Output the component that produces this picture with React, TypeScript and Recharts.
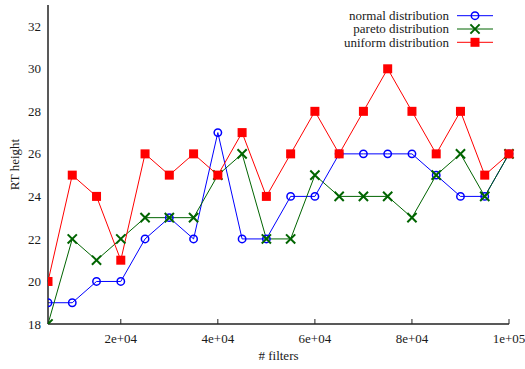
import { LineChart, Line, XAxis, YAxis, Legend, Customized, Label } from "recharts";

const filterCounts = [
  5000, 10000, 15000, 20000, 25000, 30000, 35000, 40000, 45000, 50000,
  55000, 60000, 65000, 70000, 75000, 80000, 85000, 90000, 95000, 100000,
];
const normalHeights = [19, 19, 20, 20, 22, 23, 22, 27, 22, 22, 24, 24, 26, 26, 26, 26, 25, 24, 24, 26];
const paretoHeights = [18, 22, 21, 22, 23, 23, 23, 25, 26, 22, 22, 25, 24, 24, 24, 23, 25, 26, 24, 26];
const uniformHeights = [20, 25, 24, 21, 26, 25, 26, 25, 27, 24, 26, 28, 26, 28, 30, 28, 26, 28, 25, 26];

const xTicks = [20000, 40000, 60000, 80000, 100000];
const xTickLabels = ["2e+04", "4e+04", "6e+04", "8e+04", "1e+05"];
const yTicks = [18, 20, 22, 24, 26, 28, 30, 32];

const WIDTH = 525;
const HEIGHT = 369;
const PLOT_LEFT = 48;
const PLOT_BOTTOM = 324;
const FONT = "'Liberation Serif', 'DejaVu Serif', serif";
const TEXT = "#1a1a1a";
const FRAME = "#222";

const SERIES = [
  { key: "normal", name: "normal distribution", color: "#0000ff", marker: "circle" },
  { key: "pareto", name: "pareto distribution", color: "#006400", marker: "cross" },
  { key: "uniform", name: "uniform distribution", color: "#ff0000", marker: "square" },
];

const data = filterCounts.map((n, i) => ({
  filters: n,
  normal: normalHeights[i],
  pareto: paretoHeights[i],
  uniform: uniformHeights[i],
}));

// points get cut at the left and bottom border only
const CLIP = "url(#plot-left-bottom)";

function Marker({ kind, cx, cy, color, clip }: { kind: string; cx: number; cy: number; color: string; clip?: boolean }) {
  const clipPath = clip ? CLIP : undefined;
  if (kind === "circle") {
    return <circle cx={cx} cy={cy} r={3.7} fill="none" stroke={color} strokeWidth={1.5} clipPath={clipPath} />;
  }
  if (kind === "cross") {
    const s = 4.6;
    return (
      <path
        d={`M${cx - s},${cy - s}L${cx + s},${cy + s}M${cx - s},${cy + s}L${cx + s},${cy - s}`}
        stroke={color}
        strokeWidth={2}
        fill="none"
        clipPath={clipPath}
      />
    );
  }
  return <rect x={cx - 4.5} y={cy - 4.5} width={9} height={9} fill={color} clipPath={clipPath} />;
}

const makeDot = (kind: string, color: string) => (p: any) => {
  if (p.cx == null || p.cy == null) return <g key={p.index} />;
  return <Marker key={p.index} kind={kind} cx={p.cx} cy={p.cy} color={color} clip />;
};

const BottomTick = ({ x, y, payload }: any) => {
  const idx = xTicks.indexOf(payload.value);
  return (
    <g>
      <line x1={x} x2={x} y1={y} y2={y - 5} stroke={FRAME} strokeWidth={1} />
      <text x={x} y={y + 19} textAnchor="middle" fontFamily={FONT} fontSize={13} fill={TEXT}>
        {xTickLabels[idx]}
      </text>
    </g>
  );
};

const TopTick = ({ x, y }: any) => <line x1={x} x2={x} y1={y} y2={y + 5} stroke={FRAME} strokeWidth={1} />;

const renderLegend = ({ payload }: any) => {
  const entries = SERIES.map((s) => ({
    ...s,
    label: (payload ?? []).find((e: any) => e.dataKey === s.key)?.value ?? s.name,
  }));
  return (
    <svg width={WIDTH} height={52} style={{ display: "block" }}>
      {entries.map((e, i) => {
        const y = 15.7 + i * 13.3;
        return (
          <g key={e.key}>
            <text x={449} y={y + 4.2} textAnchor="end" fontFamily={FONT} fontSize={13} fill={TEXT}>
              {e.label}
            </text>
            <line x1={457} x2={493} y1={y} y2={y} stroke={e.color} strokeWidth={1} />
            <Marker kind={e.marker} cx={475} cy={y} color={e.color} />
          </g>
        );
      })}
    </svg>
  );
};

export default function App() {
  return (
    <div style={{ position: "absolute", left: 0, top: 0, background: "#fff" }}>
      <LineChart width={WIDTH} height={HEIGHT} data={data} margin={{ top: 5, right: 16, bottom: 0, left: 0 }}>
        <Customized
          component={() => (
            <defs>
              <clipPath id="plot-left-bottom">
                <rect x={PLOT_LEFT} y={0} width={WIDTH - PLOT_LEFT} height={PLOT_BOTTOM} />
              </clipPath>
            </defs>
          )}
        />
        <XAxis
          dataKey="filters"
          type="number"
          domain={[5000, 100000]}
          ticks={xTicks}
          height={45}
          tickSize={0}
          tickMargin={0}
          tickLine={false}
          tick={<BottomTick />}
          axisLine={{ stroke: FRAME, strokeWidth: 1.5 }}
          interval={0}
        >
          <Label value="# filters" position="insideBottom" offset={9} fontFamily={FONT} fontSize={13} fill={TEXT} />
        </XAxis>
        <XAxis
          xAxisId="top"
          dataKey="filters"
          type="number"
          orientation="top"
          domain={[5000, 100000]}
          ticks={xTicks}
          height={0}
          tickSize={0}
          tickMargin={0}
          tickLine={false}
          tick={<TopTick />}
          axisLine={{ stroke: FRAME, strokeWidth: 1.5 }}
          interval={0}
        />
        <YAxis
          type="number"
          domain={[18, 33]}
          ticks={yTicks}
          width={48}
          tickSize={0}
          tickMargin={7}
          tickLine={false}
          axisLine={{ stroke: FRAME, strokeWidth: 1.5 }}
          tick={{ fontFamily: FONT, fontSize: 13, fill: TEXT }}
          interval={0}
        >
          <Label
            content={({ viewBox }: any) => {
              const cy = viewBox.y + viewBox.height / 2;
              return (
                <text
                  x={19}
                  y={cy}
                  transform={`rotate(-90 19 ${cy})`}
                  textAnchor="middle"
                  fontFamily={FONT}
                  fontSize={13}
                  fill={TEXT}
                >
                  RT height
                </text>
              );
            }}
          />
        </YAxis>
        <YAxis
          yAxisId="right"
          orientation="right"
          type="number"
          domain={[18, 33]}
          width={0}
          tick={false}
          tickLine={false}
          axisLine={{ stroke: FRAME, strokeWidth: 1.5 }}
        />
        <Legend
          layout="vertical"
          align="center"
          verticalAlign="middle"
          wrapperStyle={{ left: 0, top: 0, width: WIDTH, height: 52 }}
          content={renderLegend}
        />
        {SERIES.map((s) => (
          <Line
            key={s.key}
            type="linear"
            dataKey={s.key}
            name={s.name}
            stroke={s.color}
            strokeWidth={1}
            dot={makeDot(s.marker, s.color)}
            activeDot={false}
            isAnimationActive={false}
          />
        ))}
      </LineChart>
    </div>
  );
}
